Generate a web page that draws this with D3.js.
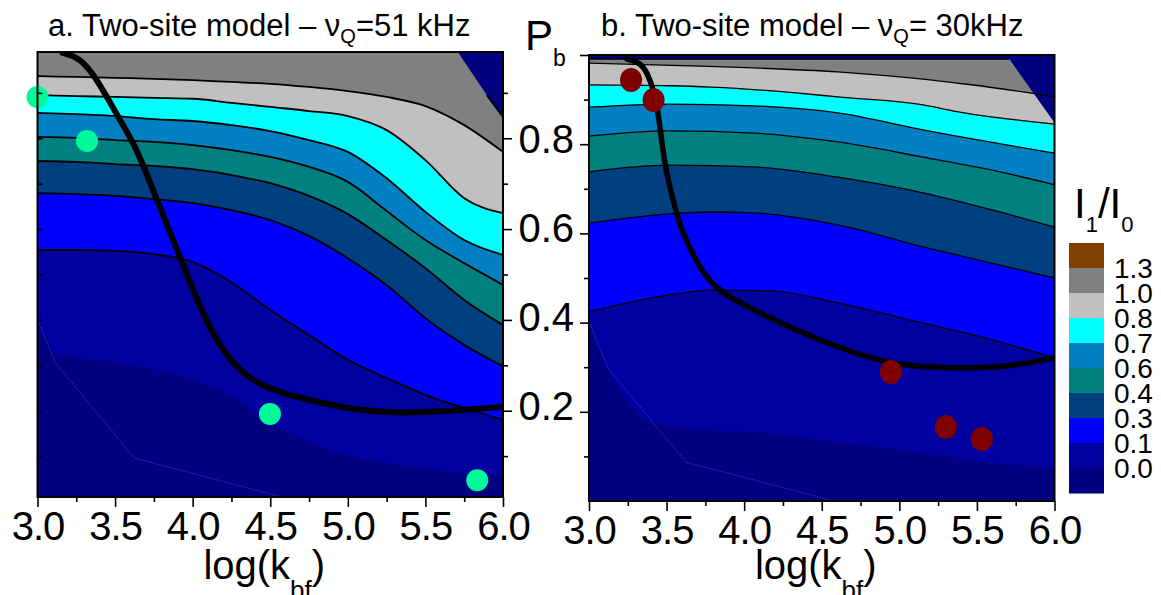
<!DOCTYPE html>
<html>
<head>
<meta charset="utf-8">
<script src="https://cdn.jsdelivr.net/npm/d3@7"></script>
<style>
body { margin: 0; background: #fff; }
text { font-family: "Liberation Sans", Arial, sans-serif; fill: #000; }
</style>
</head>
<body>
<svg id="chart"></svg>
<script>
const width = 1161;
const height = 595;

// legend colours, from the top box (>1.3) to the bottom box (<0.0)
const bandColors = ['#804000', '#808080', '#C0C0C0', '#00FFFF', '#0080C0', '#008080', '#004080', '#0000FF', '#0000A0', '#000080'];
const levelLabels = ['1.3', '1.0', '0.8', '0.7', '0.6', '0.4', '0.3', '0.1', '0.0'];

const xMajor = [3.0, 3.5, 4.0, 4.5, 5.0, 5.5, 6.0];
const xMinor = [3.25, 3.75, 4.25, 4.75, 5.25, 5.75];
const yMajor = [0.2, 0.4, 0.6, 0.8, 1.0];
const yMinor = [0.1, 0.3, 0.5, 0.7, 0.9];

// panel a : contour boundaries (1.0, 0.8, 0.7, 0.6, 0.4, 0.3, 0.1) on a log(kbf) grid
const aGrid  = [3.0, 3.25, 3.5, 3.75, 4.0, 4.25, 4.5, 4.75, 5.0, 5.25, 5.5, 5.75, 6.0];
const aLev10 = [0.937, 0.935, 0.933, 0.931, 0.928, 0.924, 0.920, 0.913, 0.904, 0.891, 0.871, 0.829, 0.770];
const aLev08 = [0.895, 0.893, 0.891, 0.889, 0.887, 0.878, 0.869, 0.860, 0.849, 0.818, 0.752, 0.668, 0.635];
const aLev07 = [0.856, 0.853, 0.849, 0.842, 0.838, 0.829, 0.816, 0.796, 0.770, 0.712, 0.638, 0.576, 0.543];
const aLev06 = [0.803, 0.801, 0.796, 0.792, 0.785, 0.774, 0.759, 0.737, 0.704, 0.640, 0.576, 0.525, 0.477];
const aLev04 = [0.750, 0.748, 0.743, 0.739, 0.732, 0.719, 0.701, 0.673, 0.633, 0.576, 0.514, 0.444, 0.389];
const aLev03 = [0.679, 0.677, 0.673, 0.666, 0.657, 0.642, 0.620, 0.585, 0.536, 0.477, 0.404, 0.345, 0.298];
const aLev01 = [0.554, 0.554, 0.552, 0.545, 0.528, 0.483, 0.422, 0.367, 0.312, 0.272, 0.235, 0.206, 0.180];
const aLev00 = [[3.0, 0.400], [3.113, 0.327], [3.25, 0.316], [3.5, 0.307], [3.75, 0.292], [4.0, 0.268], [4.25, 0.232],
                [4.5, 0.175], [4.75, 0.131], [5.0, 0.102], [5.25, 0.085], [5.5, 0.072], [5.75, 0.063], [6.0, 0.054]];
const aEdge   = [[3.0, 0.400], [3.113, 0.307], [3.622, 0.096], [4.575, 0.010]];
const aCorner = [[5.709, 0.99], [6.0, 0.99], [6.0, 0.847], [5.896, 0.895]];
const aFit = [[3.161, 0.988], [3.267, 0.979], [3.377, 0.935], [3.519, 0.847], [3.635, 0.781], [3.725, 0.702],
              [3.841, 0.605], [3.957, 0.503], [4.137, 0.356], [4.324, 0.275], [4.556, 0.239], [4.827, 0.217],
              [5.059, 0.202], [5.291, 0.195], [5.523, 0.197], [5.748, 0.202], [6.0, 0.208]];
const aDots = [[3.0, 0.891], [3.319, 0.794], [4.498, 0.193], [5.834, 0.047]];

// panel b
const bLev10 = [[3.0, 0.982], [3.715, 0.975], [4.063, 0.971], [4.604, 0.962], [4.875, 0.955], [5.152, 0.946], [5.423, 0.935], [5.841, 0.915], [6.0, 0.906]];
const bLev08 = [[3.0, 0.933], [3.515, 0.931], [3.786, 0.928], [4.334, 0.915], [4.604, 0.906], [5.152, 0.888], [5.390, 0.872], [6.0, 0.845]];
const bLev07 = [[3.0, 0.883], [3.515, 0.890], [4.063, 0.886], [4.604, 0.870], [5.152, 0.832], [6.0, 0.780]];
const bLev06 = [[3.0, 0.818], [3.515, 0.830], [4.063, 0.825], [4.604, 0.805], [5.152, 0.771], [5.648, 0.738], [6.0, 0.709]];
const bLev04 = [[3.0, 0.738], [3.515, 0.753], [4.063, 0.749], [4.604, 0.726], [5.152, 0.691], [5.648, 0.648], [6.0, 0.614]];
const bLev03 = [[3.0, 0.623], [3.515, 0.644], [3.786, 0.648], [4.063, 0.646], [4.604, 0.619], [5.152, 0.570], [5.648, 0.529], [6.0, 0.500]];
const bLev01 = [[3.0, 0.424], [3.515, 0.462], [3.786, 0.473], [4.173, 0.471], [4.604, 0.444], [5.152, 0.399], [5.558, 0.365], [6.0, 0.321]];
const bLev00 = [[3.0, 0.401], [3.122, 0.298], [3.419, 0.175], [3.747, 0.159], [4.063, 0.155], [4.604, 0.132], [5.152, 0.108], [5.558, 0.087], [6.0, 0.074]];
const bEdge   = [[3.0, 0.401], [3.122, 0.298], [3.625, 0.087], [4.579, 0.0]];
const bCorner = [[3.0, 1.0], [6.0, 1.0], [6.0, 0.848], [5.709, 0.991], [3.0, 0.991]];
const bFit = [[3.244, 0.991], [3.325, 0.984], [3.380, 0.960], [3.435, 0.899], [3.462, 0.825], [3.490, 0.749],
              [3.541, 0.675], [3.599, 0.601], [3.709, 0.525], [3.818, 0.473], [4.061, 0.428], [4.334, 0.383],
              [4.604, 0.345], [4.878, 0.312], [5.152, 0.300], [5.423, 0.298], [5.693, 0.300], [6.0, 0.321]];
const bDots = [[3.271, 0.944], [3.416, 0.899], [4.946, 0.289], [5.300, 0.166], [5.532, 0.139]];

const svg = d3.select('#chart').attr('width', width).attr('height', height);
svg.append('rect').attr('width', width).attr('height', height).attr('fill', '#fff');

const zip = (xs, ys) => xs.map((v, i) => [v, ys[i]]);

function drawPanel(p) {
    const x = d3.scaleLinear().domain([3, 6]).range(p.xRange);
    const y = d3.scaleLinear().domain(p.yDomain).range(p.yRange);
    const x0 = x(3), x1 = x(6), yTop = y(p.yDomain[1]), yBot = y(p.yDomain[0]);

    svg.append('clipPath').attr('id', 'clip-' + p.id)
        .append('rect').attr('x', x0).attr('y', yTop).attr('width', x1 - x0).attr('height', yBot - yTop);
    const plot = svg.append('g').attr('clip-path', `url(#clip-${p.id})`);

    plot.append('rect').attr('x', x0).attr('y', yTop).attr('width', x1 - x0).attr('height', yBot - yTop)
        .attr('fill', bandColors[1]);

    const area = d3.area().x(d => x(d[0])).y0(yBot).y1(d => y(d[1])).curve(d3.curveMonotoneX);
    const line = d3.line().x(d => x(d[0])).y(d => y(d[1])).curve(d3.curveMonotoneX);
    const poly = d3.line().x(d => x(d[0])).y(d => y(d[1]));

    p.levels.forEach((lev, i) => {
        plot.append('path').datum(lev).attr('d', area).attr('fill', bandColors[i + 2]);
    });

    plot.append('path').datum(p.corner).attr('d', d => poly(d) + 'Z').attr('fill', bandColors[9]);

    plot.append('path').datum(p.edge).attr('d', poly)
        .attr('fill', 'none').attr('stroke', '#2a5ad8').attr('stroke-width', 0.8)
        .attr('stroke-dasharray', '1.5,1').attr('opacity', 0.8);

    p.levels.slice(0, 7).forEach(lev => {
        plot.append('path').datum(lev).attr('d', line)
            .attr('fill', 'none').attr('stroke', '#000').attr('stroke-width', p.lineWidth);
    });
    plot.append('path').datum(p.cornerLine).attr('d', poly)
        .attr('fill', 'none').attr('stroke', '#000').attr('stroke-width', p.lineWidth);

    // fitted curve through the sampled points
    plot.append('path').datum(p.fit)
        .attr('d', d3.line().x(d => x(d[0])).y(d => y(d[1])).curve(d3.curveBasis))
        .attr('fill', 'none').attr('stroke', '#000').attr('stroke-width', p.fitWidth)
        .attr('stroke-linecap', 'round').attr('stroke-linejoin', 'round');

    svg.append('g').selectAll('ellipse').data(p.dots).join('ellipse')
        .attr('cx', d => x(d[0])).attr('cy', d => y(d[1]))
        .attr('rx', 11).attr('ry', p.dotRy).attr('fill', p.dotColor);

    svg.append('rect').attr('x', x0).attr('y', yTop).attr('width', x1 - x0).attr('height', yBot - yTop)
        .attr('fill', 'none').attr('stroke', '#000').attr('stroke-width', 2);

    const style = g => {
        g.select('.domain').remove();
        g.selectAll('line').attr('stroke', '#000').attr('stroke-width', 1.6);
        g.selectAll('text').style('font-size', '40px').style('letter-spacing', '-1px').attr('fill', '#000');
    };

    svg.append('g').attr('transform', `translate(0,${yBot})`)
        .call(d3.axisBottom(x).tickValues(xMajor).tickSize(10).tickPadding(5).tickFormat(d3.format('.1f')))
        .call(style);
    svg.append('g').attr('transform', `translate(0,${yBot})`)
        .call(d3.axisBottom(x).tickValues(xMinor).tickSize(5).tickFormat(''))
        .call(style);

    svg.append('text').attr('x', (x0 + x1) / 2 - 6).attr('y', 579).attr('text-anchor', 'middle')
        .style('font-size', '40px')
        .call(t => {
            t.append('tspan').text('log(k');
            t.append('tspan').text('bf').style('font-size', '26px').attr('dy', 20);
            t.append('tspan').text(')').attr('dy', -20);
        });

    return { x, y, x0, x1 };
}

const a = drawPanel({
    id: 'a', xRange: [37.5, 503], yDomain: [0.01, 0.99], yRange: [497, 52],
    levels: [aLev10, aLev08, aLev07, aLev06, aLev04, aLev03, aLev01].map(l => zip(aGrid, l)).concat([aLev00]),
    corner: aCorner, cornerLine: aCorner.slice(2).reverse(), edge: aEdge, fit: aFit, dots: aDots,
    dotColor: '#00FA9A', dotRy: 11, lineWidth: 1.8, fitWidth: 6
});

const b = drawPanel({
    id: 'b', xRange: [589, 1054.5], yDomain: [0.0, 1.0], yRange: [501, 55],
    levels: [bLev10, bLev08, bLev07, bLev06, bLev04, bLev03, bLev01, bLev00],
    corner: bCorner, cornerLine: bCorner.slice(3), edge: bEdge, fit: bFit, dots: bDots,
    dotColor: '#800000', dotRy: 12, lineWidth: 1.3, fitWidth: 5.5
});

const tickStyle = g => {
    g.select('.domain').remove();
    g.selectAll('line').attr('stroke', '#000').attr('stroke-width', 1.6);
    g.selectAll('text').style('font-size', '40px').attr('fill', '#000');
};

// panel a: short inner ticks on the left, outer ticks on the right
svg.append('g').attr('transform', `translate(${a.x0},0)`)
    .call(d3.axisRight(a.y).tickValues([0.1, 0.2, 0.3, 0.4, 0.5, 0.6, 0.7, 0.8, 0.9]).tickSize(5).tickFormat(''))
    .call(tickStyle);
svg.append('g').attr('transform', `translate(${a.x1},0)`)
    .call(d3.axisRight(a.y).tickValues([0.2, 0.4, 0.6, 0.8]).tickSize(9).tickFormat(''))
    .call(tickStyle);
svg.append('g').attr('transform', `translate(${a.x1},0)`)
    .call(d3.axisRight(a.y).tickValues(yMinor).tickSize(5).tickFormat(''))
    .call(tickStyle);

// panel b: labelled outer ticks on the left (shared P_b axis)
svg.append('g').attr('transform', `translate(${b.x0},0)`)
    .call(d3.axisLeft(b.y).tickValues(yMajor).tickSize(9).tickPadding(6)
        .tickFormat(d => d < 1 ? d.toFixed(1) : ''))
    .call(tickStyle)
    .call(g => g.selectAll('text').attr('dy', '0.2em'));
svg.append('g').attr('transform', `translate(${b.x0},0)`)
    .call(d3.axisLeft(b.y).tickValues(yMinor).tickSize(5).tickFormat(''))
    .call(tickStyle);

svg.append('text').attr('x', 525).attr('y', 50).style('font-size', '42px')
    .call(t => {
        t.append('tspan').text('P');
        t.append('tspan').text('b').style('font-size', '23px').attr('dy', 16);
    });

// titles
function title(xPos, head, tail) {
    svg.append('text').attr('x', xPos).attr('y', 36).style('font-size', '31px')
        .call(t => {
            t.append('tspan').text(head);
            t.append('tspan').text('Q').style('font-size', '20px').attr('dy', 7);
            t.append('tspan').text(tail).attr('dy', -7);
        });
}
title(48, 'a. Two-site model \u2013 \u03bd', '=51 kHz');
title(601, 'b. Two-site model \u2013 \u03bd', '= 30kHz');

// legend
const legendTop = 243, boxH = 25;
const legendY = d3.scaleLinear().domain([0, bandColors.length]).range([legendTop, legendTop + boxH * bandColors.length]);
svg.append('g').selectAll('rect').data(bandColors).join('rect')
    .attr('x', 1069).attr('y', (d, i) => legendY(i)).attr('width', 35).attr('height', boxH + 0.5)
    .attr('fill', d => d);
svg.append('g').selectAll('text').data(levelLabels).join('text')
    .attr('x', 1114).attr('y', (d, i) => legendY(i + 1)).attr('dy', '0.35em')
    .style('font-size', '28px').text(d => d);

svg.append('text').attr('x', 1074).attr('y', 218).style('font-size', '42px')
    .call(t => {
        t.append('tspan').text('I');
        t.append('tspan').text('1').style('font-size', '22px').attr('dy', 14);
        t.append('tspan').text('/I').attr('dy', -14);
        t.append('tspan').text('0').style('font-size', '22px').attr('dy', 14);
    });
</script>
</body>
</html>
